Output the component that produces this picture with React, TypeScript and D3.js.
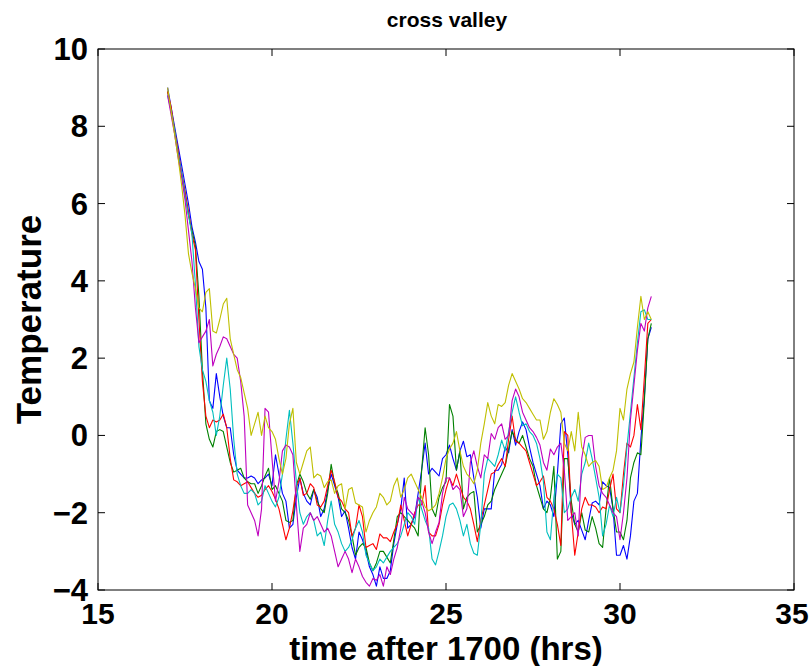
import React from "react";
import * as d3 from "d3";

const times = [
  17.0, 17.1, 17.2, 17.3, 17.4, 17.5, 17.6, 17.7, 17.8, 17.9,
  18.0, 18.1, 18.2, 18.3, 18.4, 18.5, 18.6, 18.7, 18.8, 18.9,
  19.0, 19.1, 19.2, 19.3, 19.4, 19.5, 19.6, 19.7, 19.8, 19.9,
  20.0, 20.1, 20.2, 20.3, 20.4, 20.5, 20.6, 20.7, 20.8, 20.9,
  21.0, 21.1, 21.2, 21.3, 21.4, 21.5, 21.6, 21.7, 21.8, 21.9,
  22.0, 22.1, 22.2, 22.3, 22.4, 22.5, 22.6, 22.7, 22.8, 22.9,
  23.0, 23.1, 23.2, 23.3, 23.4, 23.5, 23.6, 23.7, 23.8, 23.9,
  24.0, 24.1, 24.2, 24.3, 24.4, 24.5, 24.6, 24.7, 24.8, 24.9,
  25.0, 25.1, 25.2, 25.3, 25.4, 25.5, 25.6, 25.7, 25.8, 25.9,
  26.0, 26.1, 26.2, 26.3, 26.4, 26.5, 26.6, 26.7, 26.8, 26.9,
  27.0, 27.1, 27.2, 27.3, 27.4, 27.5, 27.6, 27.7, 27.8, 27.9,
  28.0, 28.1, 28.2, 28.3, 28.4, 28.5, 28.6, 28.7, 28.8, 28.9,
  29.0, 29.1, 29.2, 29.3, 29.4, 29.5, 29.6, 29.7, 29.8, 29.9,
  30.0, 30.1, 30.2, 30.3, 30.4, 30.5, 30.6, 30.7, 30.8, 30.9,
];

const blue = [
  9.0, 8.5, 8.0, 7.5, 7.0, 6.5, 6.0, 5.4, 5.0, 4.5,
  4.3, 3.3, 0.9, 0.7, 1.6, 1.0, 0.5, 0.2, 0.2, -0.5,
  -0.9, -1.0, -1.1, -1.1, -1.05, -1.1, -1.25, -1.15, -1.1, -1.0,
  -1.3, -0.5, -1.0, -1.5, -1.7, -2.4, -2.3, -1.6, -1.1, -1.5,
  -1.7, -1.8, -1.4, -1.6, -2.1, -1.9, -1.4, -1.0, -1.3, -1.6,
  -2.1, -1.95, -2.4, -2.9, -3.2, -2.5, -2.7, -3.0, -3.4, -3.6,
  -3.9, -3.4, -3.7, -3.7, -3.5, -2.8, -2.3, -1.9, -1.1, -2.4,
  -2.3, -2.1, -1.5, -0.9, -0.2, -1.0, -0.85, -0.95, -1.05, -0.6,
  -0.5, -0.25, -0.6, -0.9, -0.4, -0.15, -0.55, -0.5, -1.1, -1.6,
  -2.4, -1.9, -1.9, -1.9, -0.9, -0.9, -0.75, -0.3, -0.45, 0.15,
  -0.25, 0.1, 0.35, 0.15, -0.3, -0.7, -1.0, -1.3, -1.9, -1.7,
  -1.8, -2.1, -1.0, 0.3, 0.45, -0.5, -2.0, -2.3, -2.2, -2.45,
  -2.7, -2.2, -1.75, -1.7, -1.8, -1.2, -1.3, -1.35, -1.9, -3.1,
  -3.1, -2.85, -3.2, -2.6, -1.7, -1.5, -0.1, 1.0, 2.5, 2.8,
];

const green = [
  8.9, 8.4, 7.9, 7.3, 6.8, 6.3, 5.7, 5.3, 4.9, 3.6,
  1.7, 0.3, -0.1, -0.3, 0.1, 0.15, 0.1, -0.3, -0.7, -0.95,
  -0.9, -0.85, -1.1, -1.2, -1.25, -1.25, -1.5, -1.3, -1.05, -0.85,
  -1.4, -1.3, -1.5, -1.7, -2.2, -2.25, -2.2, -1.3, -1.0, -1.2,
  -1.5, -1.65, -1.4, -1.7, -1.9, -2.0, -1.5, -0.75, -1.25, -1.5,
  -1.9, -2.0, -2.2, -2.6, -3.1, -2.9, -2.8, -2.9, -3.3, -3.5,
  -3.3, -3.0, -3.0, -3.15, -3.3, -2.7, -2.1, -2.0, -2.1, -2.2,
  -2.3, -2.4, -2.6, -0.9, 0.2, -0.5, -1.9, -2.1, -1.6, -1.35,
  -1.2, 0.8, 0.5, -0.9, -0.4, -1.9, -1.6, -1.5, -1.45, -2.5,
  -2.3, -2.1, -1.8, -1.7, -1.4, -1.2, -1.0, -0.8, -0.35, 0.1,
  -0.1, -0.2, 0.0, -0.3, -0.6, -0.8, -1.3, -1.6, -1.9, -2.0,
  -1.6, -0.8, -3.2, -3.0, -0.6, -0.6, -1.7, -2.3, -2.5, -2.0,
  -2.45, -2.5, -2.1, -2.4, -2.8, -2.9, -1.9, -1.1, -1.9, -2.5,
  -2.5, -2.7, -2.2, -1.1, -0.7, -0.45, -0.5, 0.9, 2.5, 2.9,
];

const red = [
  8.9, 8.5, 7.9, 7.4, 6.8, 6.3, 5.8, 5.2, 4.8, 3.0,
  1.4, 0.5, 0.2, 0.4, 0.35, 0.4, 0.55, 0.2, -0.6, -1.15,
  -1.2, -1.3, -1.25, -1.2, -1.35, -1.5, -1.6, -1.55, -1.4, -1.3,
  -1.45, -1.65, -1.9, -2.3, -2.7, -2.4, -1.95, -1.35, -1.1, -1.55,
  -1.5, -1.25, -1.35, -1.8, -1.85, -1.7, -1.3, -0.9, -1.2, -1.6,
  -1.7, -1.9, -2.0, -2.6, -2.4, -1.8, -2.1, -2.9, -2.85, -2.8,
  -2.95, -2.55, -2.65, -2.65, -2.75, -2.5, -2.3, -1.8, -2.2, -2.6,
  -2.3, -2.0, -1.8, -1.8, -1.3, -2.5, -2.6, -2.6, -2.3, -1.8,
  -1.4, -1.1, -1.3, -1.0, -1.3, -1.6, -1.7, -1.9, -2.3, -2.75,
  -2.2, -1.8, -1.4, -1.0, -0.95, -0.75, -0.6, -0.8, -0.1, 0.5,
  -0.15, -0.2, -0.3, -0.4, -0.7, -1.0, -1.3, -1.2, -1.05, -1.6,
  -1.7, -1.9, -2.3, -2.85, 0.1, 0.0, -2.0, -3.1, -2.5, -1.9,
  -1.6, -1.8, -1.8, -1.85, -2.0, -1.85, -1.9, -1.4, -1.0, -1.9,
  -2.0, -1.0, -0.2, -0.3, 0.0, 0.8, 0.15, 1.5, 2.9, 3.0,
];

const cyan = [
  8.8, 8.4, 7.9, 7.3, 6.8, 6.2, 5.7, 5.2, 3.9, 2.3,
  1.7, 1.4, 0.9, 0.6, 0.0, 0.5, 1.3, 2.0, 1.2, -0.1,
  -1.0, -1.3, -1.5, -1.5, -1.4, -1.5, -1.8, -1.7, -1.3, -1.5,
  -1.7, -1.85, -1.6, -1.0, -0.1, 0.65, -0.2, -1.2, -2.0, -2.3,
  -2.1, -2.0, -2.2, -2.6, -2.5, -2.85, -2.2, -1.7, -2.3, -2.5,
  -2.8, -3.0, -2.9, -2.7, -2.4, -2.2, -2.5, -3.1, -3.3, -3.5,
  -3.4, -3.2, -3.3, -3.15, -3.0, -2.9, -2.8, -2.6, -2.3, -2.0,
  -2.1, -2.3, -1.6, -1.9, -2.2, -2.4, -3.2, -3.35, -3.0, -2.6,
  -2.1, -1.8, -1.75, -1.9, -2.2, -2.6, -2.3, -2.8, -3.05, -3.1,
  -2.3, -1.0, -0.6, -0.7, -0.8, -0.5, -0.12, -0.4, 0.1, 0.6,
  1.0, 0.6, 0.25, 0.3, 0.1, 0.0, -0.2, -0.6, -1.2, -2.5,
  -2.7, -1.6, -1.0, -1.1, -2.0, -1.9, -1.6, -1.4, -1.7, -1.0,
  -0.7, -0.2, -0.6, -1.1, -1.6, -2.6, -2.3, -1.8, -2.1, -1.6,
  -2.0, -1.3, -0.3, 0.6, 1.5, 2.4, 3.2, 3.25, 3.0, 3.0,
];

const magenta = [
  8.8, 8.3, 7.8, 7.2, 6.7, 6.1, 5.3, 4.5, 3.3, 2.4,
  2.55, 2.7, 3.0, 1.8, 2.1, 2.3, 2.55, 2.5, 2.3, 2.1,
  2.0, 1.4, 0.5, -1.8, -2.0, -2.2, -2.6, -1.9, 0.7, 0.6,
  -0.6, -1.7, -1.2, -0.4, -0.25, -0.3, -0.5, -1.8, -3.0, -2.4,
  -2.3, -2.0, -2.2, -2.1, -2.3, -2.5, -2.4, -2.6, -3.0, -3.4,
  -3.2, -3.0, -3.2, -3.55, -3.2, -3.4, -3.65, -3.8, -3.9, -3.7,
  -3.75, -3.6, -3.9, -3.4, -3.6, -3.2, -2.9, -2.4, -1.6, -1.9,
  -2.0, -2.1, -1.6, -1.7, -2.0, -2.5, -2.8, -2.5, -2.25, -1.5,
  -1.1, -1.1, -1.4, -1.3, -1.4, -2.1, -1.9, -0.7, -0.4, -0.8,
  -1.1, -0.5, -0.6, 0.05, -0.1, 0.2, 0.3, -0.1, 0.0, 0.9,
  1.2, 1.0, 0.6, 0.4, 0.2, 0.1, -0.05, -0.25, -0.7, -0.9,
  -0.35, -0.5, -0.3, -0.2, -0.9, -2.2, -2.1, -2.0, -2.6, -0.6,
  -0.05, 0.0, 0.0, -0.8, -1.3, -1.5, -1.6, -1.8, -2.0, -2.1,
  -2.7, -2.0, -1.1, 0.4, 1.3, 2.2, 2.9, 2.7, 3.3, 3.6,
];

const yellow = [
  9.0, 8.4, 7.8, 7.2, 6.5, 5.7, 4.7, 4.2, 3.8, 3.3,
  3.2, 3.7, 3.8, 2.7, 2.65, 3.0, 3.4, 3.55, 2.5, 2.1,
  1.7, 1.5, 1.1, 0.7, 0.0, 0.3, 0.6, 0.0, 0.5, 0.2,
  0.1, -0.1, -0.6, -1.0, -0.6, 0.3, 0.7, -0.7, -1.0, -0.7,
  -0.4, -0.3, -1.1, -1.0, -1.05, -1.35, -1.2, -1.15, -1.5, -1.3,
  -1.25, -1.9, -1.4, -1.35, -1.75, -1.8, -1.85, -2.5, -2.2, -2.0,
  -1.85, -1.5, -1.6, -1.8, -1.7, -1.3, -1.1, -1.6, -1.4, -1.1,
  -1.0, -1.2, -1.4, -1.6, -1.85, -1.95, -1.9, -1.8, -1.5, -1.1,
  -0.6, -0.35, -0.2, 0.1, -0.4, -0.8, -1.0, -1.1, -1.25, -0.9,
  -0.2, 0.3, 0.85, 0.5, 0.3, 0.8, 0.75, 0.85, 1.3, 1.6,
  1.4, 1.2, 0.95, 0.85, 0.7, 0.55, 0.4, 0.4, -0.1, 0.1,
  0.6, 0.95, 0.8, 0.6, -0.2, -0.4, 0.1, -0.4, 0.6, -0.3,
  -0.5, -0.8, -0.7, -0.65, -0.8, -1.4, -1.35, -1.1, -0.9, -0.4,
  0.7, 0.4, 1.2, 1.6, 1.9, 2.8, 3.6, 3.0, 3.2, 3.0,
];

const seriesList = [
  { name: "b", values: blue, color: "#0000ff" },
  { name: "g", values: green, color: "#008000" },
  { name: "r", values: red, color: "#ff0000" },
  { name: "c", values: cyan, color: "#00bfbf" },
  { name: "m", values: magenta, color: "#bf00bf" },
  { name: "y", values: yellow, color: "#bfbf00" },
];

const xTicks = [15, 20, 25, 30, 35];
const yTicks = [-4, -2, 0, 2, 4, 6, 8, 10];
const titleText = "cross valley";
const xLabel = "time after 1700 (hrs)";
const yLabel = "Temperature";

const W = 809;
const H = 666;
const L = 98, R = 794, T = 49, B = 590;
const FONT = "'Liberation Sans', Arial, Helvetica, sans-serif";

export default function App() {
  const x = d3.scaleLinear().domain([15, 35]).range([L, R]);
  const y = d3.scaleLinear().domain([-4, 10]).range([B, T]);
  const line = d3
    .line<number>()
    .x((_, i) => x(times[i]))
    .y((d) => y(d));
  const fmt = (v: number) => (v < 0 ? "\u2212" + Math.abs(v) : String(v));
  const tickLen = 7;

  return (
    <svg
      width={W}
      height={H}
      style={{ position: "absolute", left: 0, top: 0, background: "#fff" }}
    >
      <rect x={0} y={0} width={W} height={H} fill="#fff" />
      <g>
        {seriesList.map((s) => (
          <path
            key={s.name}
            d={line(s.values) || ""}
            fill="none"
            stroke={s.color}
            strokeWidth={1.1}
            strokeLinejoin="round"
          />
        ))}
      </g>
      <rect x={L} y={T} width={R - L} height={B - T} fill="none" stroke="#000" strokeWidth={1} />
      {xTicks.map((v) => (
        <g key={"xt" + v}>
          <line x1={x(v)} x2={x(v)} y1={B} y2={B - tickLen} stroke="#000" />
          <line x1={x(v)} x2={x(v)} y1={T} y2={T + tickLen} stroke="#000" />
          <text
            x={Math.min(x(v), W - 17)}
            y={624}
            textAnchor="middle"
            fontFamily={FONT}
            fontWeight="bold"
            fontSize={30}
          >
            {fmt(v)}
          </text>
        </g>
      ))}
      {yTicks.map((v) => (
        <g key={"yt" + v}>
          <line x1={L} x2={L + tickLen} y1={y(v)} y2={y(v)} stroke="#000" />
          <line x1={R} x2={R - tickLen} y1={y(v)} y2={y(v)} stroke="#000" />
          <text
            x={88}
            y={y(v) + 11}
            textAnchor="end"
            fontFamily={FONT}
            fontWeight="bold"
            fontSize={31}
          >
            {fmt(v)}
          </text>
        </g>
      ))}
      <text
        x={447}
        y={27}
        textAnchor="middle"
        fontFamily={FONT}
        fontWeight="bold"
        fontSize={21}
      >
        {titleText}
      </text>
      <text
        x={(L + R) / 2}
        y={660}
        textAnchor="middle"
        fontFamily={FONT}
        fontWeight="bold"
        fontSize={33}
      >
        {xLabel}
      </text>
      <text
        transform={`translate(41, ${(T + B) / 2}) rotate(-90)`}
        textAnchor="middle"
        fontFamily={FONT}
        fontWeight="bold"
        fontSize={35}
      >
        {yLabel}
      </text>
    </svg>
  );
}
